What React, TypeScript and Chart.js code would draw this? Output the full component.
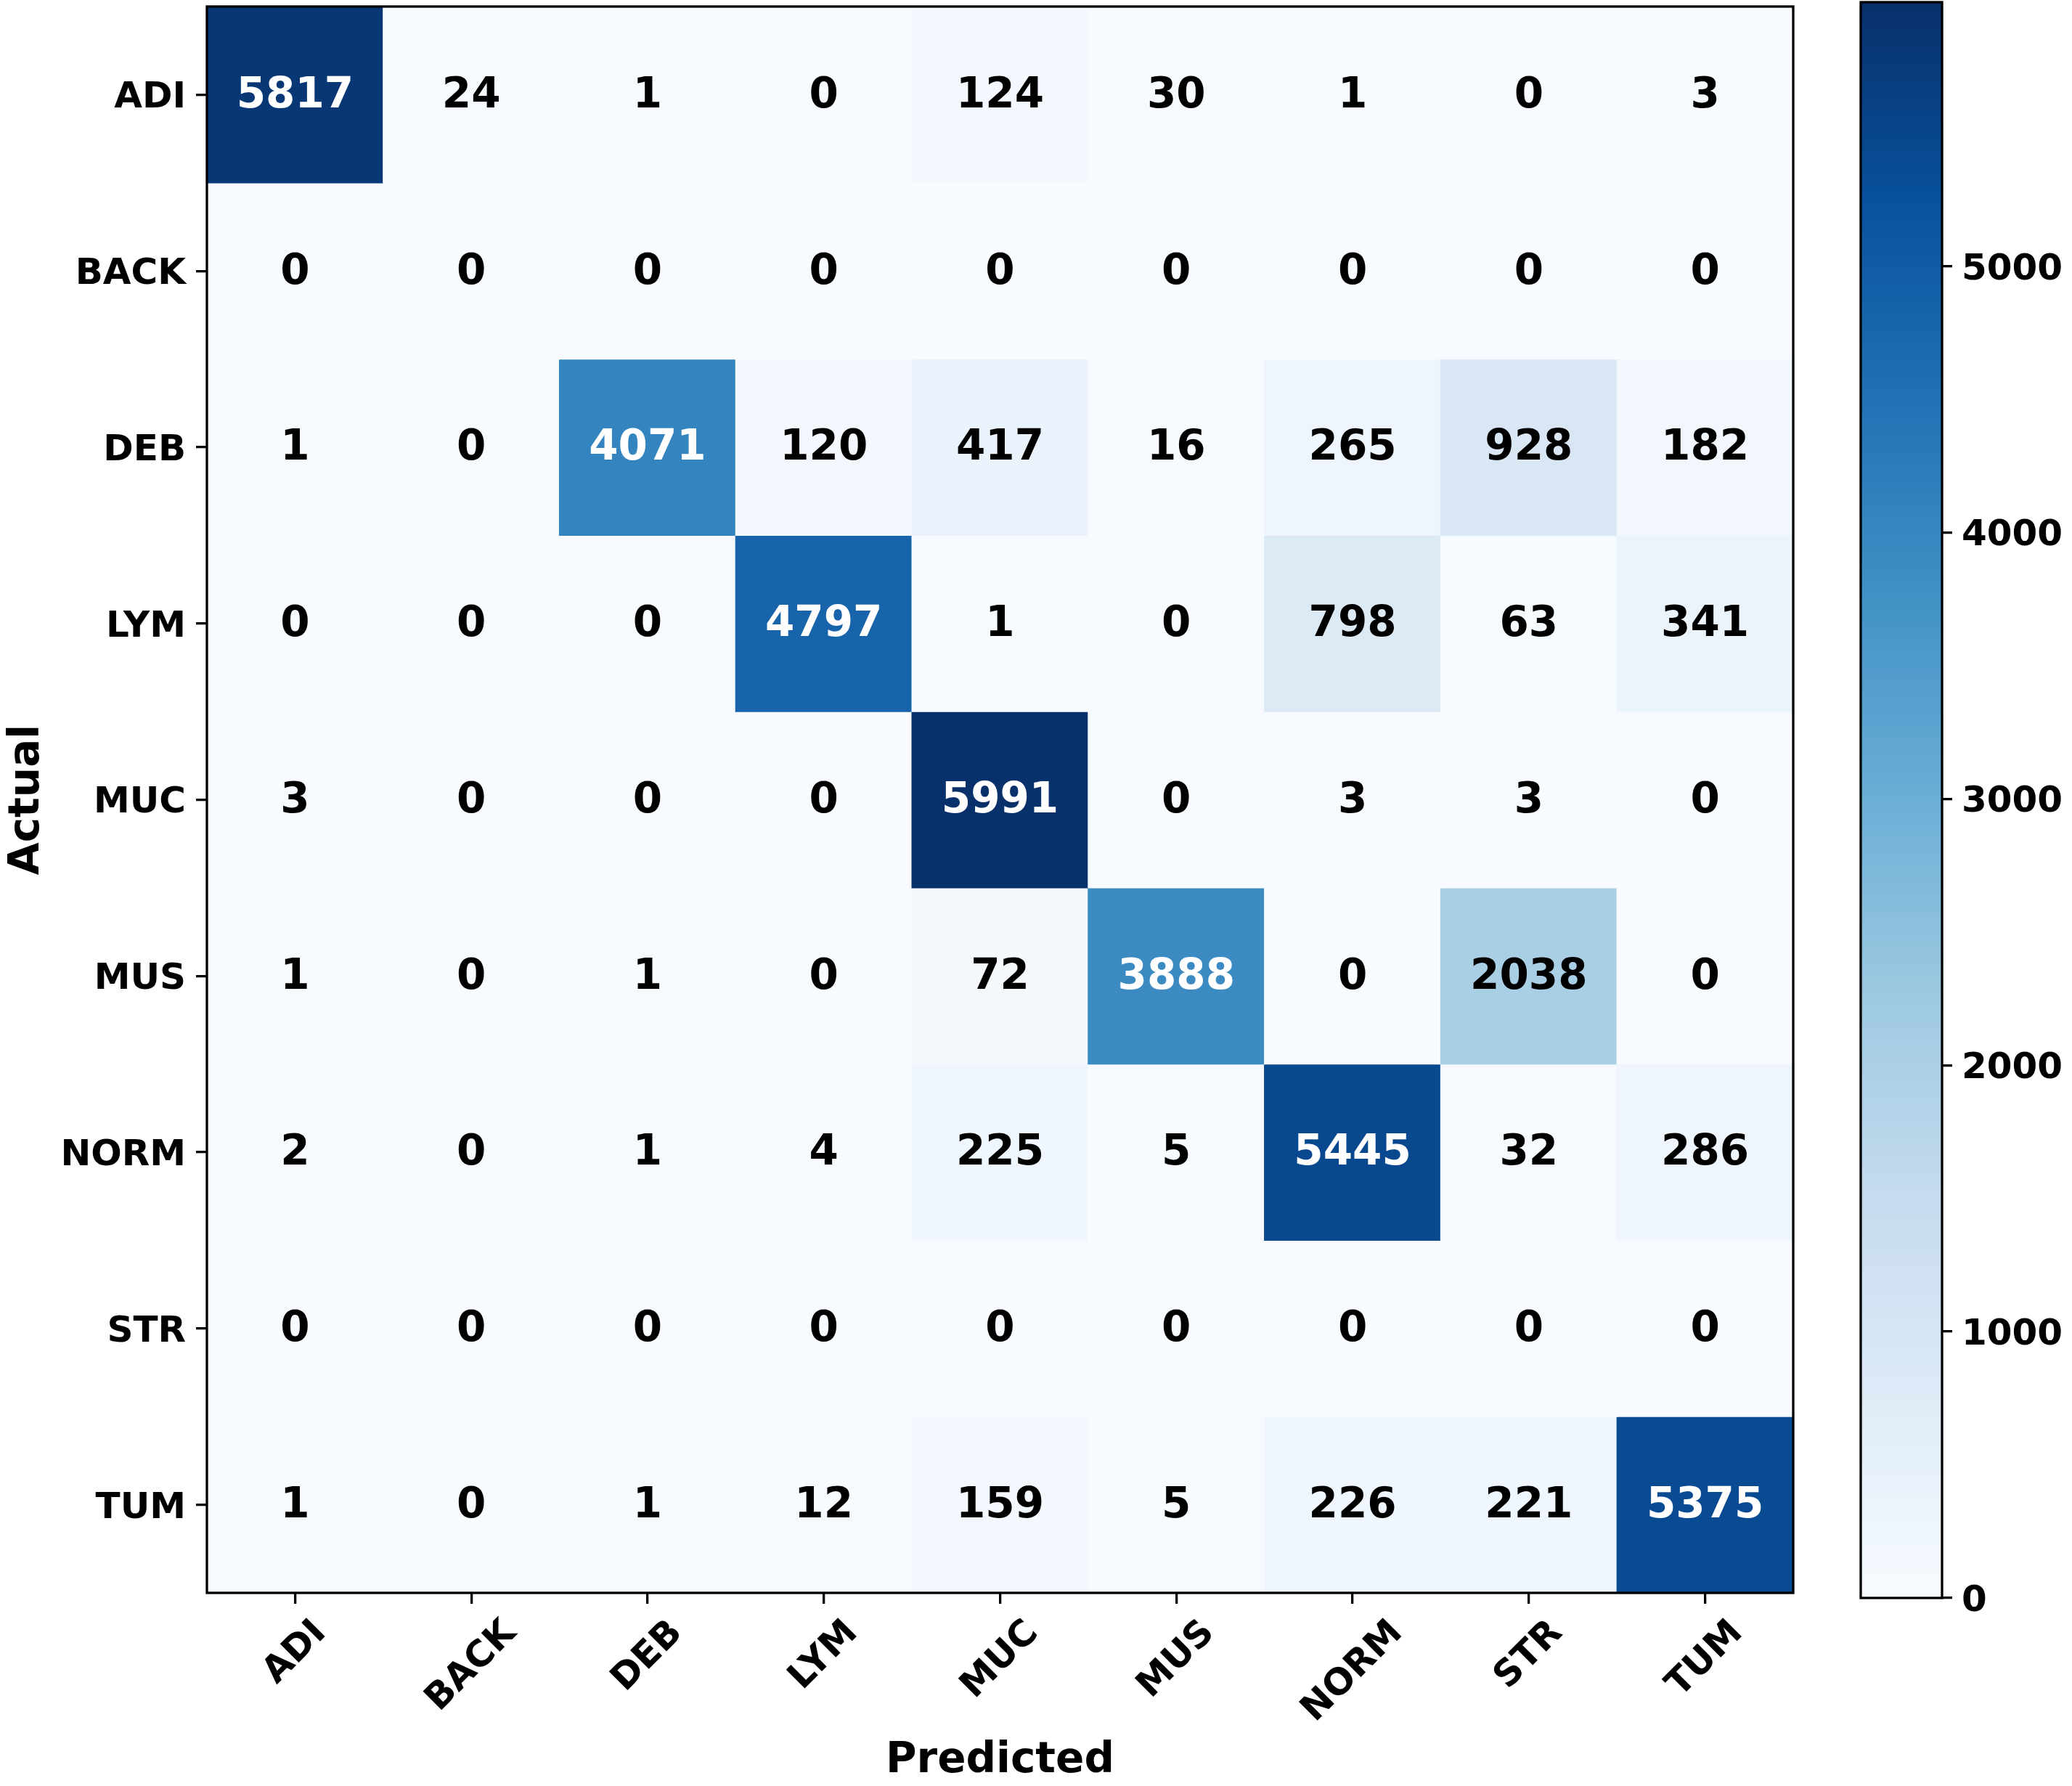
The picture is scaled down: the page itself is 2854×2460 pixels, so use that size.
import React, { useEffect, useRef } from "react";
import { Chart, registerables } from "chart.js";

Chart.register(...registerables);

// ---- data ----
const CLASSES = ["ADI", "BACK", "DEB", "LYM", "MUC", "MUS", "NORM", "STR", "TUM"];
const ROW_ADI = [5817, 24, 1, 0, 124, 30, 1, 0, 3];
const ROW_BACK = [0, 0, 0, 0, 0, 0, 0, 0, 0];
const ROW_DEB = [1, 0, 4071, 120, 417, 16, 265, 928, 182];
const ROW_LYM = [0, 0, 0, 4797, 1, 0, 798, 63, 341];
const ROW_MUC = [3, 0, 0, 0, 5991, 0, 3, 3, 0];
const ROW_MUS = [1, 0, 1, 0, 72, 3888, 0, 2038, 0];
const ROW_NORM = [2, 0, 1, 4, 225, 5, 5445, 32, 286];
const ROW_STR = [0, 0, 0, 0, 0, 0, 0, 0, 0];
const ROW_TUM = [1, 0, 1, 12, 159, 5, 226, 221, 5375];
const MATRIX = [ROW_ADI, ROW_BACK, ROW_DEB, ROW_LYM, ROW_MUC, ROW_MUS, ROW_NORM, ROW_STR, ROW_TUM];
const X_TITLE = "Predicted";
const Y_TITLE = "Actual";
const CB_TICKS = [0, 1000, 2000, 3000, 4000, 5000];

// matplotlib "Blues" colormap control points
const BLUES: number[][] = [
  [247, 251, 255],
  [222, 235, 247],
  [198, 219, 239],
  [158, 202, 225],
  [107, 174, 214],
  [66, 146, 198],
  [33, 113, 181],
  [8, 81, 156],
  [8, 48, 107],
];

function bluesAt(t: number): string {
  const tt = Math.max(0, Math.min(1, t));
  const s = tt * 8;
  const i = Math.min(7, Math.floor(s));
  const f = s - i;
  const a = BLUES[i];
  const b = BLUES[i + 1];
  const c = a.map((v, k) => Math.round(v + (b[k] - v) * f));
  return `rgb(${c[0]},${c[1]},${c[2]})`;
}

function blues(t: number): string {
  const idx = Math.min(255, Math.max(0, Math.floor(t * 256)));
  return bluesAt(idx / 255);
}

const FONT = '"DejaVu Sans", sans-serif';
const TICK_SIZE = 50;
const ANNOT_SIZE = 58;
const TITLE_SIZE = 58;
const LINE_W = 3.3;

function zeroPad(s: any) {
  s.paddingTop = 0;
  s.paddingBottom = 0;
  s.paddingLeft = 0;
  s.paddingRight = 0;
}

export default function App() {
  const mainRef = useRef<HTMLCanvasElement>(null);
  const cbRef = useRef<HTMLCanvasElement>(null);

  useEffect(() => {
    const vmax = Math.max(...MATRIX.flat());
    const thresh = vmax / 2;

    const datasets = MATRIX.map((row, r) => ({
      label: CLASSES[r],
      data: row.map(() => [r - 0.5, r + 0.5]),
      backgroundColor: row.map((v) => blues(v / vmax)),
      borderWidth: 0,
      barPercentage: 1,
      categoryPercentage: 1,
      grouped: false,
      inflateAmount: 0.6,
    }));

    const overlay = {
      id: "overlay",
      afterDatasetsDraw(chart: any) {
        const { ctx, chartArea } = chart;
        ctx.save();
        // cell annotations
        ctx.font = `bold ${ANNOT_SIZE}px ${FONT}`;
        ctx.textAlign = "center";
        ctx.textBaseline = "alphabetic";
        MATRIX.forEach((row, r) => {
          const meta = chart.getDatasetMeta(r);
          row.forEach((v, c) => {
            const el: any = meta.data[c];
            const cx = el.x;
            const cy = (el.y + el.base) / 2;
            ctx.fillStyle = v > thresh ? "#ffffff" : "#000000";
            ctx.fillText(String(v), cx, cy + 0.3 * ANNOT_SIZE);
          });
        });
        // frame
        ctx.lineWidth = LINE_W;
        ctx.strokeStyle = "#000";
        ctx.strokeRect(chartArea.left, chartArea.top, chartArea.right - chartArea.left, chartArea.bottom - chartArea.top);

        // x tick labels (rotated 45°, centred on tick like matplotlib)
        const xs = chart.scales.x;
        ctx.font = `bold ${TICK_SIZE}px ${FONT}`;
        ctx.fillStyle = "#000";
        const top = chartArea.bottom + 15 + 14.6;
        CLASSES.forEach((lab, i) => {
          const x = xs.getPixelForTick(i);
          const w = ctx.measureText(lab).width;
          const box = (w + TICK_SIZE * 1.0) * Math.SQRT1_2;
          ctx.save();
          ctx.translate(x, top + box / 2);
          ctx.rotate(-Math.PI / 4);
          ctx.textAlign = "center";
          ctx.textBaseline = "alphabetic";
          ctx.fillText(lab, 0, 0.27 * TICK_SIZE);
          ctx.restore();
        });

        // axis titles
        ctx.font = `bold ${TITLE_SIZE}px ${FONT}`;
        ctx.textAlign = "center";
        ctx.textBaseline = "alphabetic";
        ctx.fillText(X_TITLE, (chartArea.left + chartArea.right) / 2, 2441);
        ctx.save();
        ctx.translate(53, (chartArea.top + chartArea.bottom) / 2);
        ctx.rotate(-Math.PI / 2);
        ctx.fillText(Y_TITLE, 0, 0);
        ctx.restore();
        ctx.restore();
      },
    };

    const main = new Chart(mainRef.current as HTMLCanvasElement, {
      type: "bar",
      data: { labels: CLASSES, datasets: datasets as any },
      options: {
        responsive: false,
        animation: false,
        devicePixelRatio: 1,
        events: [],
        layout: { padding: { left: 0, top: 9, right: 10, bottom: 0 } },
        plugins: { legend: { display: false }, tooltip: { enabled: false } },
        scales: {
          x: {
            type: "category",
            offset: true,
            grid: { display: true, offset: false, drawOnChartArea: false, drawTicks: true, tickLength: 15, color: "#000", lineWidth: LINE_W },
            border: { display: false },
            ticks: { display: false },
            afterFit: (s: any) => {
              s.height = 266;
              zeroPad(s);
            },
          },
          y: {
            type: "linear",
            min: -0.5,
            max: 8.5,
            reverse: true,
            grid: { display: true, drawOnChartArea: false, drawTicks: true, tickLength: 15, color: "#000", lineWidth: LINE_W },
            border: { display: false },
            afterBuildTicks: (s: any) => {
              s.ticks = CLASSES.map((_, i) => ({ value: i }));
            },
            ticks: {
              autoSkip: false,
              color: "#000",
              padding: 14,
              labelOffset: 5,
              font: { family: FONT, size: TICK_SIZE, weight: "bold" },
              callback: (v: any) => CLASSES[Number(v)] ?? "",
            },
            afterFit: (s: any) => {
              s.width = 285;
              zeroPad(s);
            },
          },
        },
      } as any,
      plugins: [overlay],
    });

    const cbFrame = {
      id: "cbFrame",
      afterDatasetsDraw(chart: any) {
        const { ctx, chartArea } = chart;
        ctx.save();
        ctx.lineWidth = LINE_W;
        ctx.strokeStyle = "#000";
        ctx.strokeRect(chartArea.left, chartArea.top, chartArea.right - chartArea.left, chartArea.bottom - chartArea.top);
        ctx.restore();
      },
    };

    const cb = new Chart(cbRef.current as HTMLCanvasElement, {
      type: "bar",
      data: {
        labels: [""],
        datasets: [
          {
            data: [vmax],
            borderWidth: 0,
            barPercentage: 1,
            categoryPercentage: 1,
            backgroundColor: (c: any) => {
              const ch = c.chart;
              const ys = ch.scales && ch.scales.y;
              if (!ys || !ch.chartArea) return bluesAt(0.5);
              const y0 = ys.getPixelForValue(0);
              const y1 = ys.getPixelForValue(vmax);
              const g = ch.ctx.createLinearGradient(0, y0, 0, y1);
              BLUES.forEach((col, i) => g.addColorStop(i / 8, `rgb(${col[0]},${col[1]},${col[2]})`));
              return g;
            },
          } as any,
        ],
      },
      options: {
        responsive: false,
        animation: false,
        devicePixelRatio: 1,
        events: [],
        layout: { padding: { left: 83, top: 3, right: 0, bottom: 259 } },
        plugins: { legend: { display: false }, tooltip: { enabled: false } },
        scales: {
          x: { display: false },
          y: {
            position: "right",
            min: 0,
            max: vmax,
            grid: { display: true, drawOnChartArea: false, drawTicks: true, tickLength: 14, color: "#000", lineWidth: LINE_W },
            border: { display: false },
            afterBuildTicks: (s: any) => {
              s.ticks = CB_TICKS.map((v) => ({ value: v }));
            },
            ticks: {
              autoSkip: false,
              color: "#000",
              padding: 13,
              labelOffset: 5,
              font: { family: FONT, size: TICK_SIZE, weight: "bold" },
              callback: (v: any) => String(v),
            },
            afterFit: (s: any) => {
              s.width = 179;
              zeroPad(s);
            },
          },
        },
      } as any,
      plugins: [cbFrame],
    });

    return () => {
      main.destroy();
      cb.destroy();
    };
  }, []);

  return (
    <div style={{ position: "fixed", left: 0, top: 0, width: 2854, height: 2460, background: "#fff" }}>
      <canvas ref={mainRef} width={2480} height={2460} style={{ position: "absolute", left: 0, top: 0, width: 2480, height: 2460 }} />
      <canvas ref={cbRef} width={374} height={2460} style={{ position: "absolute", left: 2480, top: 0, width: 374, height: 2460 }} />
    </div>
  );
}
